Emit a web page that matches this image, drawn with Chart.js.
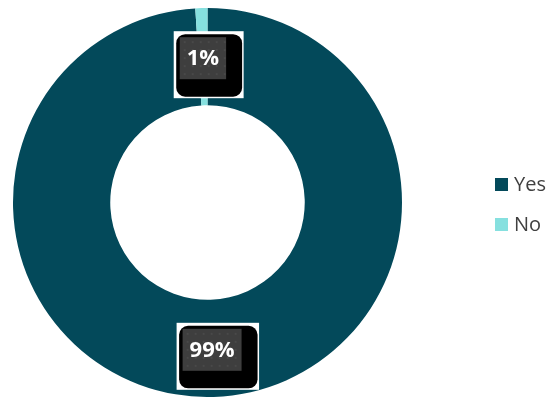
<!DOCTYPE html>
<html>
<head>
<meta charset="utf-8">
<script src="https://cdn.jsdelivr.net/npm/chart.js@4/dist/chart.umd.min.js"></script>
<style>
html,body{margin:0;padding:0;background:#fff;}
#wrap{width:547px;height:397px;position:relative;}
</style>
</head>
<body>
<div id="wrap"><canvas id="c" width="547" height="397"></canvas></div>
<script>
const categories = ["Yes", "No"];
const values = [99, 1];
const valueLabels = ["99%", "1%"];
const colors = ["#03495A", "#86E0DF"];

const labelBoxes = {
  id: 'labelBoxes',
  afterDatasetsDraw(chart) {
    const ctx = chart.ctx;
    const meta = chart.getDatasetMeta(0);
    ctx.save();
    ctx.font = 'bold 22px "Open Sans"';
    meta.data.forEach((arc, i) => {
      const p = arc.getCenterPoint();
      const txt = valueLabels[i];
      const tw = ctx.measureText(txt).width;
      const gw = tw + 14, gh = 42;
      const gx = p.x - gw / 2, gy = p.y + 1.5 - gh / 2;
      const bx = gx - 3.5, by = gy - 3, bw = gw + 19.5, bh = gh + 20.5;
      const wx = bx - 2.5, wy = by - 3, ww = bw + 4, wh = bh + 4.5;
      ctx.fillStyle = '#ffffff';
      ctx.fillRect(wx, wy, ww, wh);
      ctx.fillStyle = '#000000';
      ctx.beginPath();
      ctx.roundRect(bx, by, bw, bh, 9);
      ctx.fill();
      ctx.fillStyle = '#3e3e3e';
      ctx.fillRect(gx, gy, gw, gh);
      ctx.fillStyle = '#494949';
      for (let yy = gy + 4; yy < gy + gh - 1; yy += 8) {
        for (let xx = gx + 4; xx < gx + gw - 1; xx += 8) {
          ctx.fillRect(xx, yy, 2, 2);
        }
      }
      ctx.fillStyle = '#ffffff';
      ctx.textAlign = 'center';
      ctx.textBaseline = 'middle';
      ctx.fillText(txt, p.x, p.y + 2);
    });
    ctx.restore();
  }
};

const sideLegend = {
  id: 'sideLegend',
  afterDraw(chart) {
    const ctx = chart.ctx;
    ctx.save();
    ctx.font = '20px "Open Sans"';
    ctx.textBaseline = 'middle';
    ctx.textAlign = 'left';
    categories.forEach((c, i) => {
      const y = 184.5 + i * 40;
      ctx.fillStyle = colors[i];
      ctx.fillRect(495, y - 6.5, 13, 13);
      ctx.fillStyle = '#404040';
      ctx.fillText(c, 514, y + 1);
    });
    ctx.restore();
  }
};

new Chart(document.getElementById('c'), {
  type: 'doughnut',
  data: {
    labels: categories,
    datasets: [{
      data: values,
      backgroundColor: colors,
      borderWidth: 0
    }]
  },
  options: {
    responsive: false,
    animation: false,
    cutout: '50%',
    layout: { padding: { left: 13, right: 145, top: 8, bottom: 0 } },
    plugins: {
      legend: { display: false },
      tooltip: { enabled: false }
    }
  },
  plugins: [labelBoxes, sideLegend]
});
</script>
</body>
</html>
